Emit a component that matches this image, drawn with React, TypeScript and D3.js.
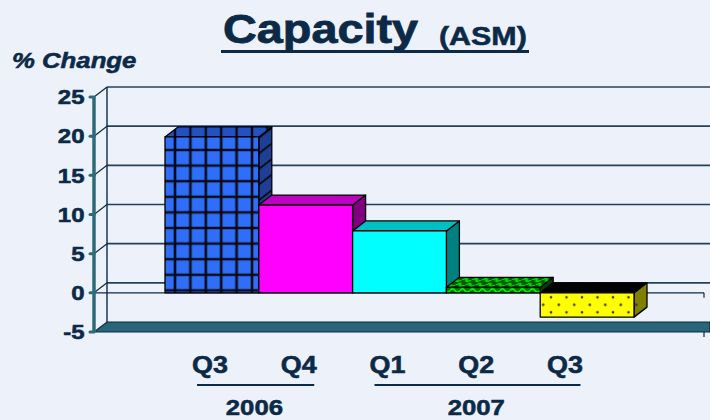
import React from "react";
import * as d3 from "d3";

// data
const quarters = ["Q3 2006", "Q4 2006", "Q1 2007", "Q2 2007", "Q3 2007"];
const quarterLabels = ["Q3", "Q4", "Q1", "Q2", "Q3"];
const values = [19.9, 11.2, 7.9, 0.7, -3.1];
const yTicks = [-5, 0, 5, 10, 15, 20, 25];
const years = ["2006", "2007"];
const yearGroups = [[0, 1], [2, 3, 4]];

const W = 710;
const H = 420;
const DX = 13; // depth offset
const DY = -10;
const NAVY = "#0c2a47";
const FONT = "'Liberation Sans', Arial, sans-serif";
const SX = 1.17; // horizontal stretch of the original text

// front, top, side fills for each bar
const faceStyles = [
  { front: "url(#gridFront)", top: "url(#gridTop)", side: "url(#gridSide)" },
  { front: "#ff00ff", top: "#c000c0", side: "#800080" },
  { front: "#00ffff", top: "#00c0c0", side: "#008080" },
  { front: "url(#waveFront)", top: "url(#waveTop)", side: "#004400" },
  { front: "url(#dots)", top: "#000000", side: "url(#dotsSide)" },
];

const App = () => {
  const y = d3.scaleLinear().domain([-5, 25]).range([332, 97]);
  const x = d3.scaleBand().domain(quarters).range([165, 634]).padding(0);
  const lx = d3.scalePoint().domain(quarters).range([210, 565]);

  const axisX = 94;
  const wallRight = W;
  const y0 = y(0);
  const yMin = y(-5);

  const poly = (pts: [number, number][]) => "M" + pts.map((p) => p.join(",")).join("L") + "Z";

  const Txt = ({ x: tx, y: ty, size, anchor = "middle", italic = false, children }: any) => (
    <text
      transform={`translate(${tx},${ty}) scale(${SX},1)`}
      textAnchor={anchor}
      fontFamily={FONT}
      fontWeight="bold"
      fontStyle={italic ? "italic" : "normal"}
      fontSize={size}
      fill={NAVY}
      stroke={NAVY}
      strokeWidth={size > 30 ? 0.8 : 0.55}
    >
      {children}
    </text>
  );

  return (
    <svg width={W} height={H} style={{ position: "absolute", left: 0, top: 0 }}>
      <defs>
        <pattern id="gridFront" patternUnits="userSpaceOnUse" width={15.4} height={15.6} x={175 - 7.7} y={150 - 7.8}>
          <rect width={15.4} height={15.6} fill="#2f6ef8" />
          <path d="M7.7,0V15.6M0,7.8H15.4" stroke="#0a0a14" strokeWidth={2.6} />
        </pattern>
        <pattern id="gridTop" patternUnits="userSpaceOnUse" width={15.4} height={15.6} x={175 - 7.7}>
          <rect width={15.4} height={15.6} fill="#2352c0" />
          <path d="M7.7,0V15.6" stroke="#0a0a14" strokeWidth={2.4} />
        </pattern>
        <pattern id="gridSide" patternUnits="userSpaceOnUse" width={15.4} height={15.6} y={150 - 7.8}
          patternTransform="skewY(-37.6)">
          <rect width={15.4} height={15.6} fill="#1d3f96" />
          <path d="M0,7.8H15.4" stroke="#0a0a14" strokeWidth={2.4} />
        </pattern>
        <pattern id="waveFront" patternUnits="userSpaceOnUse" width={10} height={6} y={287}>
          <rect width={10} height={6} fill="#006c00" />
          <path d="M0,3.6 Q2.5,0.4 5,3.6 T10,3.6" fill="none" stroke="#00f000" strokeWidth={1.9} />
        </pattern>
        <pattern id="waveTop" patternUnits="userSpaceOnUse" width={10} height={5} y={282}
          patternTransform="skewX(-52)">
          <rect width={10} height={5} fill="#005800" />
          <path d="M0,3 Q2.5,0.4 5,3 T10,3" fill="none" stroke="#00d800" strokeWidth={1.7} />
        </pattern>
        <pattern id="dots" patternUnits="userSpaceOnUse" width={15.5} height={15} x={551} y={297.3}>
          <rect width={15.5} height={15} fill="#ffff00" />
          <circle cx={0} cy={0} r={1.3} fill="#333" />
          <circle cx={15.5} cy={0} r={1.3} fill="#333" />
          <circle cx={7.75} cy={7.5} r={1.3} fill="#333" />
          <circle cx={0} cy={15} r={1.3} fill="#333" />
          <circle cx={15.5} cy={15} r={1.3} fill="#333" />
        </pattern>
        <pattern id="dotsSide" patternUnits="userSpaceOnUse" width={15.5} height={15} x={551} y={297.3}>
          <rect width={15.5} height={15} fill="#808000" />
          <circle cx={7.75} cy={7.5} r={1.3} fill="#333" />
        </pattern>
      </defs>

      <rect width={W} height={H} fill="#edf2fa" />

      {/* title */}
      <Txt x={223} y={43} size={40} anchor="start">Capacity</Txt>
      <Txt x={439} y={45} size={26} anchor="start">(ASM)</Txt>
      <line x1={221} x2={529} y1={51.5} y2={51.5} stroke={NAVY} strokeWidth={3} />
      <Txt x={12} y={68} size={22} anchor="start" italic>% Change</Txt>

      {/* back wall grid and side-wall connectors */}
      {yTicks.filter((t) => t > -5).map((t) => (
        <g key={t}>
          <line x1={axisX + DX} x2={wallRight} y1={y(t) + DY} y2={y(t) + DY} stroke="#22405e" strokeWidth={1.6} />
          <line x1={axisX} x2={axisX + DX} y1={y(t)} y2={y(t) + DY} stroke={NAVY} strokeWidth={1.2} />
        </g>
      ))}
      <line x1={axisX + DX} x2={axisX + DX} y1={y(25) + DY} y2={yMin + DY} stroke={NAVY} strokeWidth={1.4} />

      {/* floor at -5 */}
      <path
        d={poly([[axisX, yMin], [axisX + DX, yMin + DY], [W, yMin + DY], [W, yMin]])}
        fill="#2a6677"
        stroke={NAVY}
        strokeWidth={1.2}
      />
      <line x1={704} x2={704} y1={yMin} y2={yMin + 5} stroke={NAVY} strokeWidth={1.2} />

      {/* front zero line */}
      <line x1={axisX} x2={704} y1={y0} y2={y0} stroke={NAVY} strokeWidth={1.3} />
      <line x1={704} x2={704} y1={y0} y2={y0 + 5} stroke={NAVY} strokeWidth={1.2} />

      {/* bars */}
      {quarters.map((q, i) => {
        const x0 = x(q)!;
        const x1 = x0 + x.bandwidth();
        const yt = Math.min(y(values[i]), y0);
        const yb = Math.max(y(values[i]), y0);
        const s = faceStyles[i];
        return (
          <g key={q} stroke="#000" strokeWidth={1.3} strokeLinejoin="round">
            <path d={poly([[x1, yt], [x1 + DX, yt + DY], [x1 + DX, yb + DY], [x1, yb]])} fill={s.side} />
            <path d={poly([[x0, yt], [x0 + DX, yt + DY], [x1 + DX, yt + DY], [x1, yt]])} fill={s.top} />
            <rect x={x0} y={yt} width={x1 - x0} height={yb - yt} fill={s.front} />
          </g>
        );
      })}

      {/* front y axis */}
      <line x1={axisX} x2={axisX} y1={y(25)} y2={yMin} stroke="#2e6b7a" strokeWidth={3.5} />
      {yTicks.map((t) => (
        <g key={t}>
          <line x1={axisX - 4} x2={axisX} y1={y(t)} y2={y(t)} stroke="#2e6b7a" strokeWidth={3} strokeLinecap="round" />
          <Txt x={84.5} y={y(t) + 7.3} size={20.5} anchor="end">{t}</Txt>
        </g>
      ))}

      {/* category labels */}
      {quarters.map((q, i) => (
        <Txt key={q} x={lx(q)!} y={373} size={23}>{quarterLabels[i]}</Txt>
      ))}
      {years.map((yr, gi) => {
        const first = lx(quarters[yearGroups[gi][0]])!;
        const last = lx(quarters[yearGroups[gi][yearGroups[gi].length - 1]])!;
        return (
          <g key={yr}>
            <line x1={first - 13} x2={last + 15.5} y1={385} y2={385} stroke={NAVY} strokeWidth={1.8} />
            <Txt x={(first + last) / 2} y={415} size={22}>{yr}</Txt>
          </g>
        );
      })}
    </svg>
  );
};

export default App;
